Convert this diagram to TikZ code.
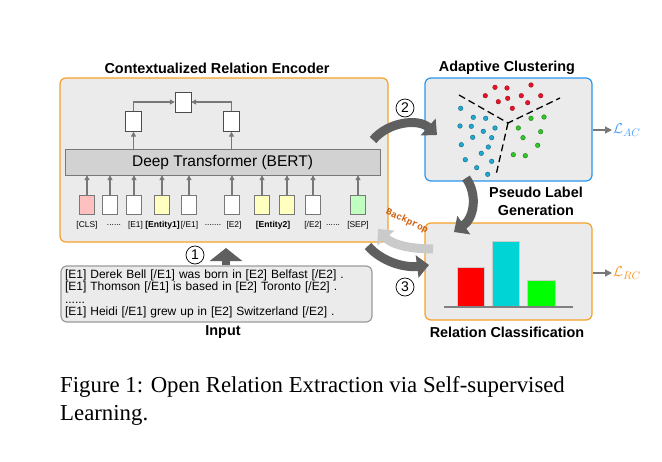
\documentclass[tikz,border=0pt]{standalone}
\usepackage{fontspec}
\setmainfont{Liberation Serif}
\setsansfont{Liberation Sans}
\setmonofont{Liberation Mono}
\usetikzlibrary{positioning,arrows.meta}

\definecolor{boxorange}{RGB}{245,160,40}
\definecolor{boxblue}{RGB}{40,150,240}
\definecolor{panelgray}{RGB}{235,235,235}
\definecolor{inputgray}{RGB}{155,155,155}
\definecolor{barfill}{RGB}{210,210,210}
\definecolor{arrgray}{RGB}{120,120,120}
\definecolor{darkarr}{RGB}{95,95,95}
\definecolor{lightarr}{RGB}{202,202,202}
\definecolor{clspink}{RGB}{255,192,192}
\definecolor{entyellow}{RGB}{255,255,192}
\definecolor{sepgreen}{RGB}{192,255,192}
\definecolor{dotred}{RGB}{230,20,40}
\definecolor{dotgreen}{RGB}{50,200,40}
\definecolor{dotcyan}{RGB}{30,170,210}
\definecolor{barred}{RGB}{255,0,0}
\definecolor{barcyan}{RGB}{0,212,212}
\definecolor{bargreen}{RGB}{0,255,0}
\definecolor{lossblue}{RGB}{70,160,255}
\definecolor{lossorange}{RGB}{245,150,40}
\definecolor{propbrown}{RGB}{205,95,15}

\begin{document}
\begin{tikzpicture}[x=1pt, y=-1pt,
						panelbox/.style={rounded corners=6pt, line width=1.2pt, fill=panelgray},
						title/.style={font=\sffamily\bfseries\fontsize{14.4}{18}\selectfont, align=center},
						bert/.style={rectangle, draw=arrgray, fill=barfill, minimum width=315, minimum height=26, font=\sffamily\fontsize{15.5}{17}\selectfont},
						hid/.style={rectangle, draw=black!70, fill=white, minimum width=16, minimum height=20, inner sep=0},
						tok/.style={rectangle, draw=arrgray, fill=white, minimum width=15, minimum height=19, inner sep=0},
						toklab/.style={font=\sffamily\fontsize{8.4}{10}\selectfont, inner sep=0},
						entlab/.style={font=\sffamily\bfseries\fontsize{8.6}{10}\selectfont, inner sep=0},
						arr/.style={draw=arrgray, line width=1.2pt, -{Triangle[length=5pt,width=5pt]}},
						numcirc/.style={circle, draw=black, line width=0.7pt, minimum size=18, inner sep=0, font=\sffamily\fontsize{14}{14}\selectfont},
						loss/.style={anchor=west, inner sep=1, font=\fontsize{15}{17}\selectfont},
						sep/.style={draw=black, line width=1.3pt, dash pattern=on 7pt off 4pt},
						bar/.style={draw=white!60!gray, line width=0.4pt},
						reddot/.style={fill=dotred, draw=dotred!70!black, line width=0.4pt},
						greendot/.style={fill=dotgreen, draw=dotgreen!60!black, line width=0.4pt},
						cyandot/.style={fill=dotcyan, draw=dotcyan!60!black, line width=0.4pt}
					]
					\useasboundingbox (0,0) rectangle (662,461);
					% encoder
					\node[panelbox, draw=boxorange, minimum width=328, minimum height=164] (enc) at (224,160) {};
					\node[title] (enctitle) at (217,68) {Contextualized Relation Encoder};
					\node[bert] (bert) at (222.5,162) {Deep Transformer (BERT)};
					\node[hid] (h1) at (133.5,121.5) {};
					\node[hid] (h2) at (231.5,121.5) {};
					\node[hid] (hout) at (183,102) {};
					\draw[arr] (bert.north -| h1) -- (h1.south);
					\draw[arr] (bert.north -| h2) -- (h2.south);
					\draw[arr] (h1.north) |- (hout.west);
					\draw[arr] (h2.north) |- (hout.east);
					\node[tok, fill=clspink] (cls) at (87,205) {};
					\node[tok] (dots1) at (110,205) {};
					\node[tok] (e1) at (134,205) {};
					\node[tok, fill=entyellow] (ent1) at (162,205) {};
					\node[tok] (ce1) at (189,205) {};
					\node[tok] (e2) at (232,205) {};
					\node[tok, fill=entyellow] (ent2a) at (262,205) {};
					\node[tok, fill=entyellow] (ent2b) at (287,205) {};
					\node[tok] (ce2) at (313,205) {};
					\node[tok, fill=sepgreen] (sep) at (358,205) {};
					\draw[arr] (cls.north) -- (cls |- bert.south);
					\draw[arr] (dots1.north) -- (dots1 |- bert.south);
					\draw[arr] (e1.north) -- (e1 |- bert.south);
					\draw[arr] (ent1.north) -- (ent1 |- bert.south);
					\draw[arr] (ce1.north) -- (ce1 |- bert.south);
					\draw[arr] (e2.north) -- (e2 |- bert.south);
					\draw[arr] (ent2a.north) -- (ent2a |- bert.south);
					\draw[arr] (ent2b.north) -- (ent2b |- bert.south);
					\draw[arr] (ce2.north) -- (ce2 |- bert.south);
					\draw[arr] (sep.north) -- (sep |- bert.south);
					\node[toklab] (lcls) at (87,225) {[CLS]};
					\node[toklab] (ldots1) at (114,225) {......};
					\node[toklab] (le1) at (135.5,225) {[E1]};
					\node[entlab] (lent1) at (162.5,225) {[Entity1]};
					\node[toklab] (lce1) at (189.5,225) {[/E1]};
					\node[toklab] (ldots2) at (213,225) {.......};
					\node[toklab] (le2) at (234,225) {[E2]};
					\node[entlab] (lent2) at (273,225) {[Entity2]};
					\node[toklab] (lce2) at (313,225) {[/E2]};
					\node[toklab] (ldots3) at (333,225) {......};
					\node[toklab] (lsep) at (358,225) {[SEP]};
					% input
					\node[panelbox, draw=inputgray, text width=303, inner xsep=4, inner ysep=3, minimum height=56, align=left,
						font=\sffamily\fontsize{12}{12.3}\selectfont] (inbox) at (216.5,294) {{[E1]} Derek Bell [/E1] was born in [E2] Belfast [/E2] .\\
						{[E1]} Thomson [/E1] is based in [E2] Toronto [/E2] .\\
						......\\
						{[E1]} Heidi [/E1] grew up in [E2] Switzerland [/E2] .};
					\node[title] (intitle) at (223,332) {Input};
					\node[numcirc] (c1) at (195,255) {1};
					\coordinate (upin) at (226,248);
					\draw[draw=darkarr, line width=8pt, -{Triangle[length=13pt,width=32pt]}] (upin |- inbox.north) -- (upin);
					% clustering
					\node[panelbox, draw=boxblue, minimum width=167, minimum height=103] (clu) at (508.5,129.5) {};
					\node[title] (clutitle) at (507,68) {Adaptive Clustering};
					\coordinate (cc) at (508,123);
					\draw[sep] (459,95) -- (cc) -- (560,98);
					\draw[sep] (cc) -- (496,175);
					\draw[reddot] (495,87.3) circle (2.3) (507,88) circle (2.3) (531,85) circle (2.3) (485.3,95.7) circle (2.3)
						(507.7,98.3) circle (2.3) (521.3,95.7) circle (2.3) (540.7,95.7) circle (2.3) (498.3,101.7) circle (2.3)
						(527.7,102.7) circle (2.3) (512.3,108.3) circle (2.3);
					\draw[greendot] (531,118.3) circle (2.3) (544,117) circle (2.3) (518.3,128) circle (2.3) (540.7,131.7) circle (2.3)
						(523,137.7) circle (2.3) (537.7,145.3) circle (2.3) (513.3,154.7) circle (2.3) (525.3,155.7) circle (2.3);
					\draw[cyandot] (460.7,108.3) circle (2.3) (473.3,117.3) circle (2.3) (485.7,118.3) circle (2.3) (460,126) circle (2.3)
						(471.3,126.3) circle (2.3) (495,128) circle (2.3) (483.3,131.3) circle (2.3) (472.7,137.3) circle (2.3)
						(491.7,137.7) circle (2.3) (461.3,144.7) circle (2.3) (488.3,147) circle (2.3) (481.3,153.3) circle (2.3)
						(465.3,159.7) circle (2.3) (491.7,161.3) circle (2.3) (476.7,167.7) circle (2.3) (487.7,174.3) circle (2.3);
					\node[loss, text=lossblue] (lac) at (612,130) {$\mathcal{L}_{AC}$};
					\draw[arr, -{Triangle[length=7pt,width=7pt]}] (clu.east |- lac) -- (lac.west);
					\node[title] (pseudo) at (536,201) {Pseudo Label\\Generation};
					% classification
					\node[panelbox, draw=boxorange, minimum width=167, minimum height=97] (rc) at (508.5,271.5) {};
					\node[title] (rctitle) at (507,332) {Relation Classification};
					\filldraw[bar, fill=barred] (457,267) rectangle (484,306);
					\filldraw[bar, fill=barcyan] (492,241) rectangle (519,306);
					\filldraw[bar, fill=bargreen] (527,280) rectangle (555,306);
					\draw[draw=gray, line width=2pt] (444,307) -- (573,307);
					\node[loss, text=lossorange] (lrc) at (612,273) {$\mathcal{L}_{RC}$};
					\draw[arr, -{Triangle[length=7pt,width=7pt]}] (rc.east |- lrc) -- (lrc.west);
					% big arrows
					\coordinate (a2from) at (373,140);
					\coordinate (a2to) at (437,135);
					\coordinate (plfrom) at (466,178);
					\coordinate (plto) at (454,232);
					\coordinate (a3from) at (368,246);
					\coordinate (a3to) at (429,265);
					\coordinate (bpfrom) at (433,249);
					\coordinate (bpto) at (378,229);
					\begin{scope}[line width=9pt, -{Triangle[length=12pt,width=22pt]}]
					\draw[lightarr] (bpfrom) .. controls (412,249) and (392,245) .. (bpto);
					\draw[darkarr] (a2from) .. controls (388,122) and (418,118) .. (a2to);
					\draw[darkarr] (plfrom) .. controls (478,195) and (474,218) .. (plto);
					\draw[darkarr] (a3from) .. controls (382,262) and (405,268) .. (a3to);
					\end{scope}
					\node[numcirc] (c2) at (405,108) {2};
					\node[numcirc] (c3) at (405,287) {3};
					\node[font=\ttfamily\bfseries\fontsize{9.5}{10}\selectfont, text=propbrown, rotate=-25, inner sep=0] (bp) at (407,221) {Backprop};
					% caption
					\node[anchor=north west, align=left, inner sep=0, font=\fontsize{22.8}{28}\selectfont] (cap) at (60,376.5) {Figure 1: Open Relation Extraction via Self-supervised\\Learning.};
					\end{tikzpicture}
\end{document}
